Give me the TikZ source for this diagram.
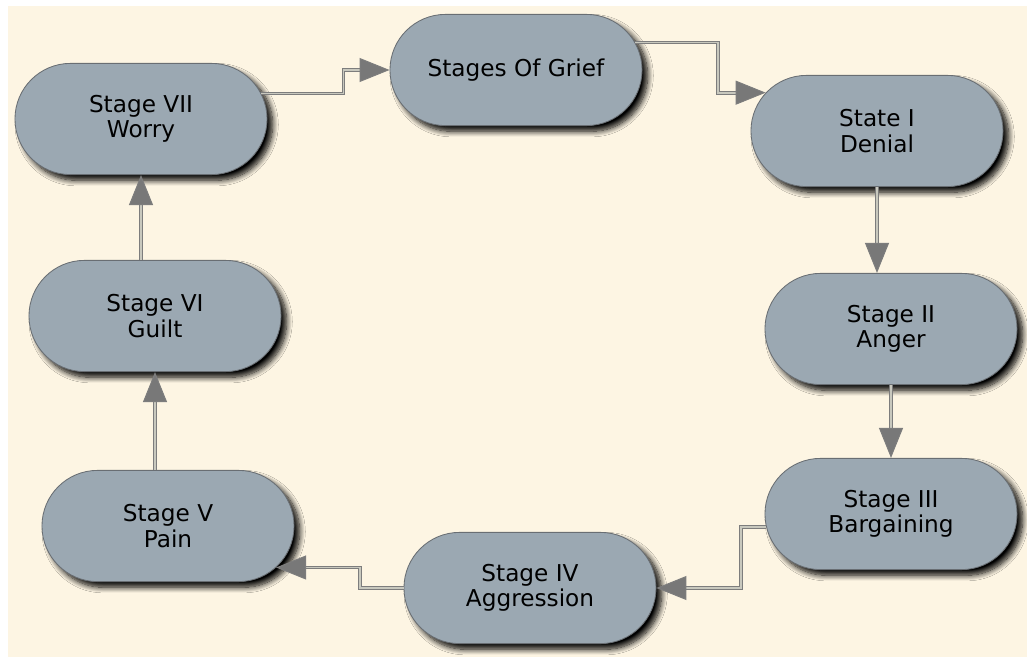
\documentclass[tikz,border=0pt]{standalone}
\usepackage{fontspec}
\setmainfont{DejaVu Sans}
\usepackage{tikz}
\usetikzlibrary{shapes.misc, shadows.blur, arrows.meta}

\definecolor{paper}{RGB}{253,245,227}
\definecolor{stagefill}{RGB}{155,168,178}
\definecolor{stageline}{RGB}{105,110,115}
\definecolor{linkgray}{RGB}{125,125,125}
\definecolor{linklight}{RGB}{200,200,190}
\definecolor{tipgray}{RGB}{120,120,120}

\tikzset{
  stage/.style={rounded rectangle, draw=stageline, line width=0.6pt, fill=stagefill,
    minimum width=6.3cm, minimum height=2.78cm, inner sep=0pt, align=center,
    font=\fontsize{16.5}{18}\selectfont,
    blur shadow={shadow xshift=4pt, shadow yshift=-4pt, shadow blur radius=4pt,
      shadow blur steps=10, shadow opacity=100}},
  link/.style={draw=linkgray, line width=0.7pt, double=linklight, double distance=1.2pt,
    -{Triangle[length=0.75cm, width=0.6cm, fill=tipgray]}}
}

\begin{document}
\begin{tikzpicture}[x=0.025cm, y=-0.025cm]
                \useasboundingbox (0,0) rectangle (1027,657);
                \fill[paper] (8,6) rectangle (1027,657);

                \node[stage] (grief)      at (516,70)  {Stages Of Grief};
                \node[stage] (denial)     at (877,131) {State I\\Denial};
                \node[stage] (anger)      at (891,329) {Stage II\\Anger};
                \node[stage] (bargain)    at (891,514) {Stage III\\Bargaining};
                \node[stage] (aggression) at (530,588) {Stage IV\\Aggression};
                \node[stage] (pain)       at (168,526) {Stage V\\Pain};
                \node[stage] (guilt)      at (155,316) {Stage VI\\Guilt};
                \node[stage] (worry)      at (141,119) {Stage VII\\Worry};

                % round the cycle
                \draw[link] (worry.12) -| ([xshift=-1.15cm]grief.west) -- (grief.west);
                \draw[link] (grief.13) -| ([xshift=-1.2cm]denial.161) -- (denial.161);
                \draw[link] (denial.south) -- (denial.south |- anger.north);
                \draw[link] (anger.south) -- (anger.south |- bargain.north);
                \draw[link] (bargain.186) -| ([xshift=2.12cm]aggression.east) -- (aggression.east);
                \draw[link] (aggression.west) -| ([xshift=2.1cm]pain.-21) -- (pain.-21);
                \draw[link] (guilt.south |- pain.north) -- (guilt.south);
                \draw[link] (worry.south |- guilt.north) -- (worry.south);

            \end{tikzpicture}
\end{document}
